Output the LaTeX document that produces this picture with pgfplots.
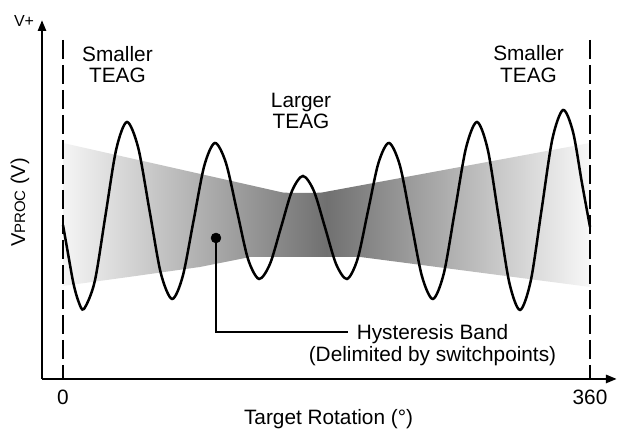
\documentclass[border=0pt]{standalone}
\usepackage{fontspec}
\setmainfont{Liberation Sans}
\usepackage{pgfplots}
\pgfplotsset{compat=1.18}
\usetikzlibrary{arrows.meta}
\begin{document}
\begin{tikzpicture}[font=\fontsize{20.8bp}{25bp}\selectfont]
\begin{axis}[
  scale only axis, width=575bp, height=359bp,
  xmin=-14.35, xmax=378.4, ymin=0, ymax=359,
  axis x line=bottom, axis y line=left,
  x axis line style={line width=2.6bp, -{Triangle[length=11bp,width=8bp]}},
  y axis line style={line width=2.6bp, -{Triangle[length=11bp,width=8bp]}},
  xtick=\empty, ytick=\empty,
  clip=false,
]
% hysteresis band
\addplot[draw=none, left color=white!96!black, right color=white!97!black, middle color=black!56]
  coordinates {(0,236) (150,186.5) (156,186) (171,186) (177,186.5) (360,236)
               (360,92) (203,122) (128,122) (93.6,112) (45,102) (0,93)} -- cycle;
% dashed boundaries
\addplot[black, line width=1.2bp, dash pattern=on 19bp off 6bp] coordinates {(0,339) (0,0)};
\addplot[black, line width=1.2bp, dash pattern=on 19bp off 6bp] coordinates {(360,339) (360,0)};
% signal
\addplot[black, line width=2.5bp, smooth] coordinates {
(0,154) (3.6,124) (7.2,95) (10.7,77) (14.3,70)
(21.65,97.4) (29.0,163.5) (36.35,229.6) (43.7,257)
(51.4,231.1) (59.1,168.5) (66.8,105.9) (74.5,80)
(81.8,102.8) (89.15,158) (96.5,213.2) (103.8,236)
(111.3,216.1) (118.85,168) (126.4,119.9) (133.9,100)
(141.4,115.1) (148.9,151.5) (156.4,187.9) (163.9,203)
(171.4,187.9) (179,151.5) (186.5,115.1) (194,100)
(201.2,119.9) (208.35,168) (215.5,216.1) (222.7,236)
(230.2,213.2) (237.7,158) (245.2,102.8) (252.7,80)
(260.2,105.9) (267.75,168.5) (275.3,231.1) (282.8,257)
(290.15,229.5) (297.5,163) (304.85,96.5) (312.2,69)
(319.55,98.3) (326.9,169) (334.25,239.7) (341.6,269)
(348.4,247) (354.5,196) (360,152)
};
% leader
\addplot[black, line width=2.2bp] coordinates {(104.5,141) (104.5,47) (194.7,47)};
\addplot[only marks, mark=*, mark size=5bp, black] coordinates {(104.5,141)};
% texts
\node[anchor=base] at (axis cs:37.2,317.5) {Smaller};
\node[anchor=base] at (axis cs:37.2,296) {TEAG};
\node[anchor=base] at (axis cs:162.6,271.7) {Larger};
\node[anchor=base] at (axis cs:162.6,250.7) {TEAG};
\node[anchor=base] at (axis cs:318,318) {Smaller};
\node[anchor=base] at (axis cs:318,296) {TEAG};
\node[anchor=base] at (axis cs:252.4,39.5) {Hysteresis Band};
\node[anchor=base] at (axis cs:252.4,17.5) {(Delimited by switchpoints)};
\node[anchor=base] at (axis cs:0,-25.5) {0};
\node[anchor=base] at (axis cs:360,-25.5) {360};
\node[anchor=base] at (axis cs:181.4,-45.5) {Target Rotation (°)};
\node[anchor=base, font=\fontsize{16bp}{19bp}\selectfont] at (axis cs:-26.6,352) {V+};
\node[anchor=base, rotate=90, font=\fontsize{20bp}{24bp}\selectfont] at (axis cs:-25.96,176.5) {V{\fontsize{15bp}{18bp}\selectfont PROC} (V)};
\coordinate (bbsw) at (axis cs:-43.04,-51);
\coordinate (bbne) at (axis cs:379.13,379);
\end{axis}
\pgfresetboundingbox
\path[use as bounding box] (bbsw) rectangle (bbne);
\end{tikzpicture}
\end{document}
